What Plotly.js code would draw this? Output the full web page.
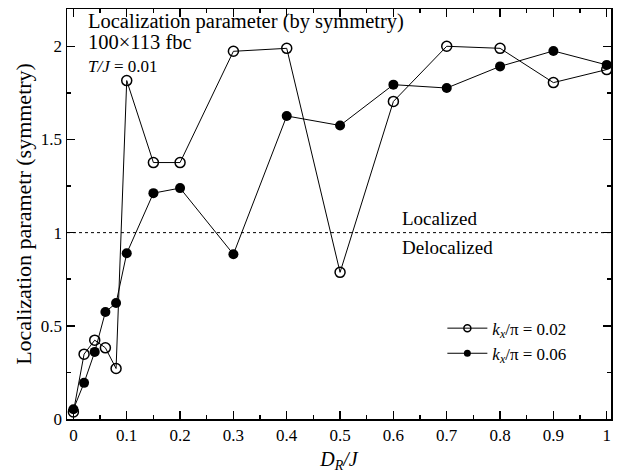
<!DOCTYPE html>
<html>
<head>
<meta charset="utf-8">
<script src="https://cdn.plot.ly/plotly-3.0.1.min.js"></script>
<style>html,body{margin:0;padding:0;background:#fff;}#chart{width:628px;height:475px;}</style>
</head>
<body>
<div id="chart"></div>
<script>
const dr = [0, 0.02, 0.04, 0.06, 0.08, 0.1, 0.15, 0.2, 0.3, 0.4, 0.5, 0.6, 0.7, 0.8, 0.9, 1.0];
const kx002 = [0.038, 0.348, 0.423, 0.382, 0.271, 1.816, 1.376, 1.376, 1.973, 1.989, 0.787, 1.704, 2.0, 1.989, 1.805, 1.875];
const kx006 = [0.052, 0.194, 0.36, 0.574, 0.622, 0.889, 1.212, 1.239, 0.884, 1.626, 1.575, 1.794, 1.776, 1.892, 1.975, 1.9];
const seriesNames = ['<i>k</i><sub><i>x</i></sub>/π = 0.02', '<i>k</i><sub><i>x</i></sub>/π = 0.06'];
const threshold = 1;
const yTicks = [0, 0.5, 1, 1.5, 2];
const yTickText = ['0', '0.5', '1', '1.5', '2'];
const xTicks = [0, 0.1, 0.2, 0.3, 0.4, 0.5, 0.6, 0.7, 0.8, 0.9, 1];
const xTickText = ['0', '0.1', '0.2', '0.3', '0.4', '0.5', '0.6', '0.7', '0.8', '0.9', '1'];

const font = 'Liberation Serif';

const traces = [
  {x: dr, y: kx002, mode: 'lines+markers', showlegend: false,
   line: {color: '#000', width: 1},
   marker: {symbol: 'circle-open', size: 10, color: '#000', line: {width: 1.5, color: '#000'}}},
  {x: dr, y: kx006, mode: 'lines+markers', showlegend: false,
   line: {color: '#000', width: 1},
   marker: {symbol: 'circle', size: 10, color: '#000'}},
  {x: [null], y: [null], mode: 'lines+markers', name: seriesNames[0],
   line: {color: '#000', width: 1},
   marker: {symbol: 'circle-open', size: 7, color: '#000', line: {width: 1.5, color: '#000'}}},
  {x: [null], y: [null], mode: 'lines+markers', name: seriesNames[1],
   line: {color: '#000', width: 1},
   marker: {symbol: 'circle', size: 7, color: '#000'}}
];

const axisCommon = {
  showgrid: false, zeroline: false, showline: true, linecolor: '#000', linewidth: 1.5,
  mirror: 'ticks', ticks: 'inside', ticklen: 8, tickwidth: 1.5, tickcolor: '#000',
  tickfont: {family: font, size: 17, color: '#000'}
};

const layout = {
  width: 628, height: 475,
  margin: {l: 67, r: 17, t: 9, b: 56},
  paper_bgcolor: '#fff', plot_bgcolor: '#fff',
  font: {family: font, color: '#000'},
  xaxis: Object.assign({}, axisCommon, {
    range: [-0.012, 1.008], tickvals: xTicks, ticktext: xTickText,
    minor: {dtick: 0.05, tick0: 0, ticks: 'inside', ticklen: 4, tickwidth: 1.5, tickcolor: '#000'},
    title: {text: '<i>D</i><sub><i>R</i></sub><i>/J</i>', font: {family: font, size: 20, color: '#000'}, standoff: 8}
  }),
  yaxis: Object.assign({}, axisCommon, {
    range: [0, 2.2], tickvals: yTicks, ticktext: yTickText,
    minor: {dtick: 0.25, tick0: 0, ticks: 'inside', ticklen: 4, tickwidth: 1.5, tickcolor: '#000'},
    title: {text: 'Localization parametr (symmetry)', font: {family: font, size: 22, color: '#000'}, standoff: 3}
  }),
  shapes: [
    {type: 'line', xref: 'paper', x0: 0, x1: 1, yref: 'y', y0: threshold, y1: threshold,
     line: {color: '#000', width: 1, dash: 'dot'}}
  ],
  legend: {x: 0.69, y: 0.19, xanchor: 'left', yanchor: 'middle', bgcolor: 'rgba(0,0,0,0)',
    font: {family: font, size: 17, color: '#000'}, tracegroupgap: 0, itemwidth: 40},
  annotations: [
    {text: 'Localization parameter (by symmetry)', xref: 'paper', yref: 'paper', x: 0.035, y: 1.002,
     xanchor: 'left', yanchor: 'top', showarrow: false, font: {family: font, size: 20.5, color: '#000'}},
    {text: '100×113 fbc', xref: 'paper', yref: 'paper', x: 0.035, y: 0.951,
     xanchor: 'left', yanchor: 'top', showarrow: false, font: {family: font, size: 20.5, color: '#000'}},
    {text: '<i>T/J</i> = 0.01', xref: 'paper', yref: 'paper', x: 0.035, y: 0.888,
     xanchor: 'left', yanchor: 'top', showarrow: false, font: {family: font, size: 17, color: '#000'}},
    {text: 'Localized', xref: 'x', yref: 'y', x: 0.612, y: 1.0, xanchor: 'left', yanchor: 'bottom',
     yshift: 2, showarrow: false, font: {family: font, size: 19, color: '#000'}},
    {text: 'Delocalized', xref: 'x', yref: 'y', x: 0.612, y: 1.0, xanchor: 'left', yanchor: 'top',
     yshift: -2, showarrow: false, font: {family: font, size: 19, color: '#000'}}
  ]
};

Plotly.newPlot('chart', traces, layout, {displayModeBar: false, staticPlot: true});
</script>
</body>
</html>
